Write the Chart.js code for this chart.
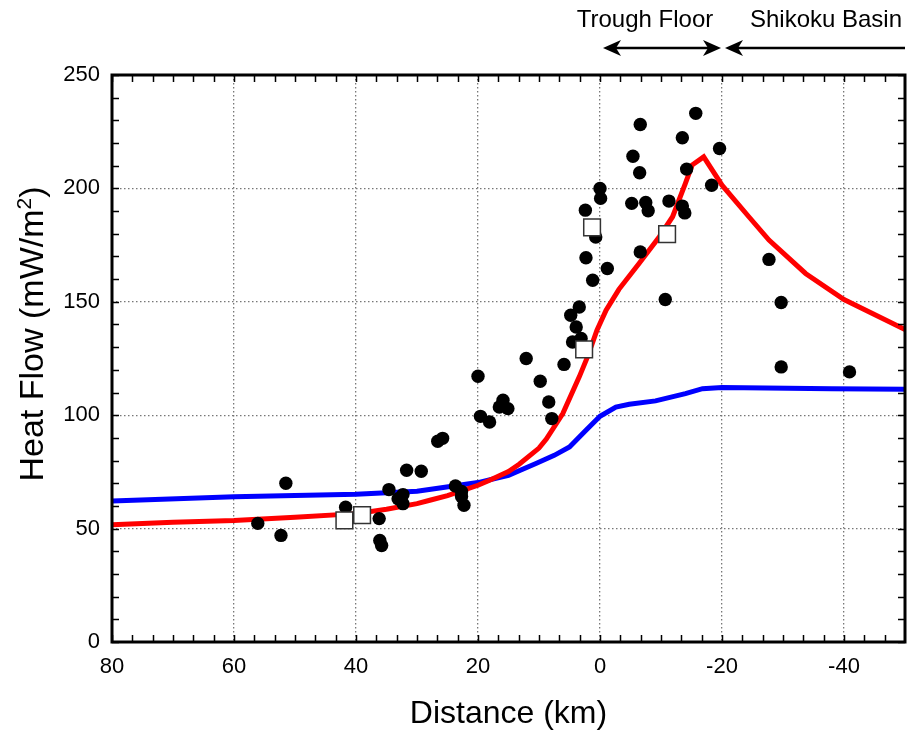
<!DOCTYPE html>
<html>
<head>
<meta charset="utf-8">
<script src="https://cdn.jsdelivr.net/npm/chart.js@4/dist/chart.umd.min.js"></script>
<style>
  html, body { margin: 0; padding: 0; background: #fff; }
  #wrap { width: 907px; height: 737px; }
</style>
</head>
<body>
<div id="wrap"><canvas id="myChart" width="907" height="737"></canvas></div>
<script>
// measured heat flow (circles)
const obsX = [56.1, 52.3, 51.5, 41.7, 36.2, 36.1, 35.8, 34.6, 33.1, 32.3, 32.3, 31.7, 29.3,
  26.6, 25.8, 23.7, 22.7, 22.7, 22.3, 20.0, 19.6, 18.1, 16.5, 15.9, 15.1, 12.1, 9.8, 8.4, 7.9,
  5.9, 4.8, 4.5, 3.9, 3.4, 3.1, 2.4, 2.3, 1.2, 0.7, 0.0, -0.1, -1.2, -5.2, -5.4, -6.5, -6.6,
  -6.6, -7.5, -7.9, -10.7, -11.3, -13.5, -13.5, -13.9, -14.2, -15.7, -18.3, -19.6, -27.7,
  -29.7, -29.7, -40.9];
const obsY = [52.3, 47.0, 70.0, 59.4, 54.4, 44.8, 42.5, 67.2, 63.2, 65.0, 61.0, 75.7, 75.3,
  88.5, 89.8, 68.8, 66.4, 64.2, 60.3, 117.2, 99.5, 97.0, 103.6, 106.6, 102.9, 125.0, 115.0,
  105.8, 98.5, 122.4, 144.1, 132.3, 138.9, 147.7, 133.8, 190.4, 169.4, 159.5, 178.6, 200.0,
  195.6, 164.7, 193.4, 214.2, 206.9, 228.2, 172.0, 193.8, 190.1, 151.0, 194.4, 222.3, 192.2,
  189.2, 208.5, 233.1, 201.4, 217.6, 168.7, 149.7, 121.3, 119.1];

// other measurements (open squares)
const sqX = [41.9, 39.0, 2.6, 1.3, -11.0];
const sqY = [53.6, 55.9, 129.0, 182.8, 179.8];

// model curves
const redX = [80, 70, 60, 50, 40, 35, 30, 27.9, 25, 20, 18.1, 15, 13.2, 10, 8.8, 6.1, 3.4,
  2.0, 0.5, -1.0, -3.1, -6.4, -9.7, -11.9, -14.0, -15.1, -17.0, -20.0, -24.4, -27.7, -33.7,
  -40, -50];
const redY = [51.7, 52.8, 53.6, 55.0, 56.6, 58.5, 61.0, 62.5, 64.5, 69.1, 71.3, 75.2, 78.5,
  85.5, 89.5, 100.7, 116.9, 126.0, 137.5, 146.3, 155.5, 166.9, 178.6, 187.5, 202.2, 210.3,
  213.9, 201.4, 187.5, 177.2, 162.5, 151.0, 137.8];
const blueX = [80, 60, 40, 30, 20, 15, 10.5, 7.5, 5, 2.3, 0, -2.6, -4.8, -9.1, -14, -16.8,
  -20, -38, -50];
const blueY = [62.2, 64.0, 65.2, 66.5, 70.3, 73.5, 78.7, 82.3, 86.0, 93.4, 99.5, 103.6,
  104.8, 106.3, 109.5, 111.7, 112.2, 111.7, 111.4];

const xTicks = [80, 60, 40, 20, 0, -20, -40];
const yTicks = [0, 50, 100, 150, 200, 250];
const zones = ['Trough Floor', 'Shikoku Basin'];

function pts(xs, ys) {
  return xs.map((x, i) => ({ x: x, y: ys[i] }));
}

const FONT = "'Liberation Sans', Arial, Helvetica, sans-serif";

// frame, inward minor ticks, y title (with real superscript) and the top annotations
const framePlugin = {
  id: 'frame',
  afterDraw(chart) {
    const c = chart.ctx;
    const a = chart.chartArea;
    const xs = chart.scales.x, ys = chart.scales.y;
    c.save();
    c.strokeStyle = '#000';
    c.lineWidth = 1.5;
    const tl = 7;
    // x ticks every 20/6 km
    for (let k = 0; k <= 39; k++) {
      const v = 80 - k * 20 / 6;
      const px = Math.round(xs.getPixelForValue(v)) + 0.5;
      if (px < a.left || px > a.right) continue;
      c.beginPath();
      c.moveTo(px, a.bottom); c.lineTo(px, a.bottom - tl);
      c.moveTo(px, a.top); c.lineTo(px, a.top + tl);
      c.stroke();
    }
    // y ticks every 10
    for (let v = 0; v <= 250; v += 10) {
      const py = Math.round(ys.getPixelForValue(v)) + 0.5;
      c.beginPath();
      c.moveTo(a.left, py); c.lineTo(a.left + tl, py);
      c.moveTo(a.right, py); c.lineTo(a.right - tl, py);
      c.stroke();
    }
    c.lineWidth = 3;
    c.strokeRect(a.left, a.top, a.right - a.left, a.bottom - a.top);

    // y axis title
    c.fillStyle = '#000';
    c.save();
    c.translate(34, 334);
    c.rotate(-Math.PI / 2);
    c.textBaseline = 'middle';
    c.textAlign = 'left';
    const big = '34px ' + FONT, small = '21px ' + FONT;
    const t1 = 'Heat Flow (mW/m', t2 = '2', t3 = ')';
    c.font = big;
    const w1 = c.measureText(t1).width, w3 = c.measureText(t3).width;
    c.font = small;
    const w2 = c.measureText(t2).width;
    let x0 = -(w1 + w2 + w3) / 2;
    c.font = big;
    c.fillText(t1, x0, 0);
    c.font = small;
    c.fillText(t2, x0 + w1, -9);
    c.font = big;
    c.fillText(t3, x0 + w1 + w2, 0);
    c.restore();

    // annotations above the plot
    c.font = "24px 'Liberation Sans Narrow', " + FONT;
    c.textAlign = 'center';
    c.textBaseline = 'middle';
    c.fillText(zones[0], 645, 20);
    c.fillText(zones[1], 826, 20);

    const ay = 48;
    function head(x, dir) {
      c.beginPath();
      c.moveTo(x, ay);
      c.lineTo(x + dir * 18, ay - 8);
      c.lineTo(x + dir * 13, ay);
      c.lineTo(x + dir * 18, ay + 8);
      c.closePath();
      c.fill();
    }
    c.lineWidth = 2.5;
    c.beginPath();
    c.moveTo(608, ay); c.lineTo(716, ay);
    c.moveTo(730, ay); c.lineTo(905, ay);
    c.stroke();
    head(603, 1);
    head(721, -1);
    head(725, 1);
    c.restore();
  }
};

const ctx = document.getElementById('myChart').getContext('2d');
const chart = new Chart(ctx, {
  type: 'scatter',
  data: {
    datasets: [
      {
        label: 'squares',
        data: pts(sqX, sqY),
        pointStyle: 'rect',
        pointRadius: 11.8,
        backgroundColor: '#fff',
        borderColor: '#333',
        borderWidth: 1.5,
        order: 0
      },
      {
        label: 'circles',
        data: pts(obsX, obsY),
        pointStyle: 'circle',
        pointRadius: 6.7,
        backgroundColor: '#000',
        borderColor: '#000',
        borderWidth: 0,
        order: 1
      },
      {
        label: 'red model',
        data: pts(redX, redY),
        showLine: true,
        borderColor: '#ff0000',
        borderWidth: 5,
        pointRadius: 0,
        tension: 0,
        order: 2
      },
      {
        label: 'blue model',
        data: pts(blueX, blueY),
        showLine: true,
        borderColor: '#0000ff',
        borderWidth: 5,
        pointRadius: 0,
        tension: 0,
        order: 3
      }
    ]
  },
  options: {
    responsive: false,
    animation: false,
    layout: { autoPadding: false, padding: { top: 75, right: 2, left: 0, bottom: 0 } },
    plugins: {
      legend: { display: false },
      tooltip: { enabled: false }
    },
    scales: {
      x: {
        type: 'linear',
        reverse: true,
        min: -50,
        max: 80,
        afterBuildTicks: (s) => { s.ticks = xTicks.map(v => ({ value: v })); },
        afterFit: (s) => { s.height = 95; s.paddingLeft = 0; s.paddingRight = 0; },
        grid: { color: '#777', lineWidth: 1.3, drawTicks: false },
        border: { display: false, dash: [1.5, 2.5] },
        ticks: {
          color: '#000',
          padding: 12,
          maxRotation: 0,
          font: { family: FONT, size: 22 }
        },
        title: {
          display: true,
          text: 'Distance (km)',
          color: '#000',
          font: { family: FONT, size: 32 },
          padding: { top: 4 }
        }
      },
      y: {
        type: 'linear',
        min: 0,
        max: 250,
        afterBuildTicks: (s) => { s.ticks = yTicks.map(v => ({ value: v })); },
        afterFit: (s) => { s.width = 112; },
        grid: { color: '#777', lineWidth: 1.3, drawTicks: false },
        border: { display: false, dash: [1.5, 2.5] },
        ticks: {
          color: '#000',
          padding: 12,
          font: { family: FONT, size: 22 }
        },
        title: { display: false }
      }
    }
  },
  plugins: [framePlugin]
});
</script>
</body>
</html>
